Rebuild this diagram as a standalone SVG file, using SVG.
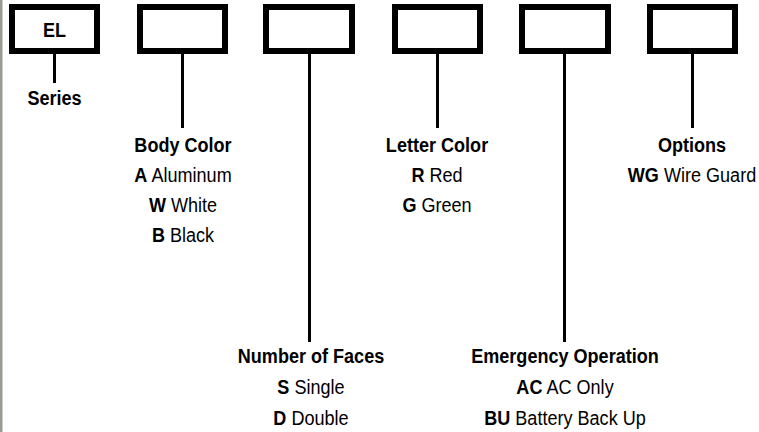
<svg xmlns="http://www.w3.org/2000/svg" width="759" height="432" viewBox="0 0 759 432">
<style>
.box{fill:#fff;stroke:#000;stroke-width:6}
.ln{stroke:#000;stroke-width:3;fill:none}
text{font-family:"Liberation Sans",Arial,sans-serif;font-size:21px;fill:#000;text-anchor:middle}
.h{font-weight:bold}
.b{font-weight:bold}
</style>
<rect x="0" y="0" width="759" height="432" fill="#fff"/>
<rect x="0" y="0" width="2.5" height="432" fill="#9a9a8e"/>
<g id="connectors">
<line class="ln" x1="54.5" y1="54" x2="54.5" y2="83"/>
<line class="ln" x1="182.5" y1="54" x2="182.5" y2="128"/>
<line class="ln" x1="309.5" y1="54" x2="309.5" y2="342"/>
<line class="ln" x1="437.5" y1="54" x2="437.5" y2="128"/>
<line class="ln" x1="564.5" y1="54" x2="564.5" y2="342"/>
<line class="ln" x1="692.5" y1="54" x2="692.5" y2="128"/>
</g>
<g id="box-series">
<rect class="box" x="12" y="7" width="85" height="44"/>
<text class="h" transform="translate(54.5,37) scale(0.86,1)">EL</text>
</g>
<g id="box-body"><rect class="box" x="140" y="7" width="85" height="44"/></g>
<g id="box-faces"><rect class="box" x="266" y="7" width="86" height="44"/></g>
<g id="box-letter"><rect class="box" x="395" y="7" width="85" height="44"/></g>
<g id="box-emergency"><rect class="box" x="522" y="7" width="86" height="44"/></g>
<g id="box-options"><rect class="box" x="650" y="7" width="85" height="44"/></g>
<g id="label-series">
<text class="h" transform="translate(54.5,105) scale(0.86,1)">Series</text>
</g>
<g id="label-body">
<text class="h" transform="translate(183,152) scale(0.86,1)">Body Color</text>
<text transform="translate(183,182) scale(0.86,1)"><tspan class="b">A</tspan> Aluminum</text>
<text transform="translate(183,212) scale(0.86,1)"><tspan class="b">W</tspan> White</text>
<text transform="translate(183,242) scale(0.86,1)"><tspan class="b">B</tspan> Black</text>
</g>
<g id="label-faces">
<text class="h" transform="translate(311,363) scale(0.86,1)">Number of Faces</text>
<text transform="translate(311,394) scale(0.86,1)"><tspan class="b">S</tspan> Single</text>
<text transform="translate(311,425) scale(0.86,1)"><tspan class="b">D</tspan> Double</text>
</g>
<g id="label-letter">
<text class="h" transform="translate(437,152) scale(0.86,1)">Letter Color</text>
<text transform="translate(437,182) scale(0.86,1)"><tspan class="b">R</tspan> Red</text>
<text transform="translate(437,212) scale(0.86,1)"><tspan class="b">G</tspan> Green</text>
</g>
<g id="label-emergency">
<text class="h" transform="translate(565,363) scale(0.86,1)">Emergency Operation</text>
<text transform="translate(565,394) scale(0.86,1)"><tspan class="b">AC</tspan> AC Only</text>
<text transform="translate(565,425) scale(0.86,1)"><tspan class="b">BU</tspan> Battery Back Up</text>
</g>
<g id="label-options">
<text class="h" transform="translate(692,152) scale(0.86,1)">Options</text>
<text transform="translate(692,182) scale(0.86,1)"><tspan class="b">WG</tspan> Wire Guard</text>
</g>
</svg>
